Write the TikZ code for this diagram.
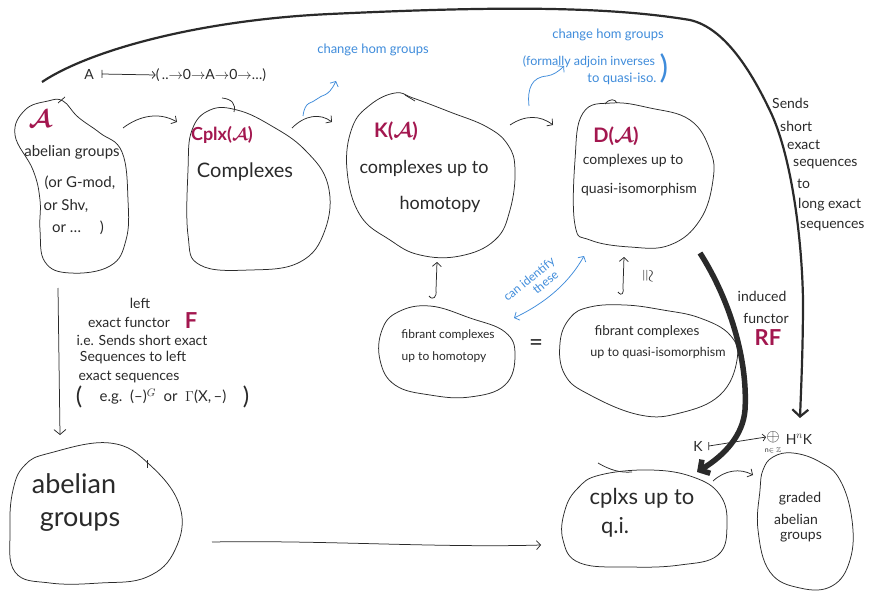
\documentclass[tikz,border=0pt]{standalone}
\usepackage{amsmath,amssymb}
\usepackage{fontspec}
\setmainfont{Lato}
\usetikzlibrary{arrows.meta}
\definecolor{rd}{HTML}{A3174F}
\definecolor{bl}{HTML}{3F8CDB}
\definecolor{ink}{HTML}{2A2A2A}
\tikzset{
 fs/.style={font=\fontsize{#1}{#1}\selectfont},
 blob/.style={draw=ink, line width=0.75pt},
 con/.style={draw=ink, line width=0.75pt, -{Straight Barb[length=4pt,width=9pt]}},
 bcon/.style={draw=bl, line width=0.75pt, -{Straight Barb[length=4pt,width=9pt]}},
 lbl/.style={text=ink, inner sep=0pt},
 blbl/.style={text=bl, inner sep=0pt},
 rlbl/.style={text=rd, inner sep=0pt, font=\bfseries\fontsize{#1}{#1}\selectfont},
}
\begin{document}
\begin{tikzpicture}[x=1pt,y=-1pt]
\useasboundingbox[fill=white] (0,0) rectangle (870,591);

% ---------- blobs ----------
\draw[blob] plot[smooth cycle, tension=0.7] coordinates {(63,101)(78,117)(100,133)(122,152)(128,200)(126,240)(110,266)(70,273)(45,262)(40,230)(40,200)(33,170)(15,135)(25,110)(48,101)};
\draw[blob] (58,103) -- (65,97);
\draw[blob] plot[smooth cycle, tension=0.7] coordinates {(237,110)(270,125)(305,150)(328,185)(325,230)(300,262)(250,270)(200,265)(188,235)(188,170)(192,130)(210,110)};
\draw[blob] (222,98) .. controls (232,99) and (236,104) .. (234,112);
\draw[blob] plot[smooth cycle, tension=0.7] coordinates {(395,93)(413,98)(450,112)(487,127)(508,145)(515,170)(510,210)(495,240)(460,256)(420,255)(390,240)(360,215)(347,170)(352,128)(370,105)};
\draw[blob] (405,95) -- (415,101);
\draw[blob] plot[smooth cycle, tension=0.7] coordinates {(612,103)(650,108)(690,120)(710,150)(713,180)(700,220)(670,245)(630,247)(590,240)(575,225)(575,160)(583,113)};
\draw[blob] (605,104) .. controls (610,98) and (615,99) .. (617,103);
\draw[blob] plot[smooth cycle, tension=0.7] coordinates {(430,306)(470,318)(505,332)(515,355)(505,385)(470,397)(430,395)(395,385)(380,360)(382,330)(398,312)};
\draw[blob] plot[smooth cycle, tension=0.7] coordinates {(590,307)(625,305)(663,310)(700,318)(730,335)(737,360)(720,395)(680,413)(640,415)(590,395)(565,375)(560,343)(570,318)};
\draw[blob] plot[smooth cycle, tension=0.7] coordinates {(50,453)(110,443)(150,465)(180,507)(175,550)(147,577)(100,583)(50,583)(15,572)(10,530)(13,490)(25,465)};
\draw[blob] (147,460) -- (147,468);
\draw[blob] plot[smooth cycle, tension=0.7] coordinates {(600,475)(650,470)(693,477)(720,495)(727,525)(718,555)(680,565)(630,567)(580,563)(563,540)(565,510)(578,488)};
\draw[blob] (598,463) .. controls (610,470) and (620,473) .. (632,472);
\draw[blob] plot[smooth cycle, tension=0.7] coordinates {(773,457)(793,453)(820,462)(840,480)(852,520)(850,560)(832,586)(800,588)(770,572)(758,530)(760,490)(763,470)};

% ---------- texts ----------
\node[rlbl=26] (tA) at (40,119) {$\boldsymbol{\mathcal{A}}$};
\node[lbl,fs=15] (tA1) at (72,152) {abelian groups};
\node[lbl,fs=15] (tA2) at (80,183) {(or G-mod,};
\node[lbl,fs=15] (tA3) at (66,206) {or Shv,};
\node[lbl,fs=15] (tA4) at (78,228) {or \dots\quad\ )};

\node[rlbl=18] (tC) at (222,135) {Cplx($\boldsymbol{\mathcal{A}}$)};
\node[lbl,fs=20] (tC1) at (245,172) {Complexes};

\node[rlbl=20] (tK) at (396,131) {K($\boldsymbol{\mathcal{A}}$)};
\node[lbl,fs=18] (tK1) at (424,168) {complexes up to};
\node[lbl,fs=18] (tK2) at (440,204) {homotopy};

\node[rlbl=20] (tD) at (616,136) {D($\boldsymbol{\mathcal{A}}$)};
\node[lbl,fs=14] (tD1) at (633,161) {complexes up to};
\node[lbl,fs=14] (tD2) at (639,190) {quasi-isomorphism};

\node[lbl,fs=12] (tF1) at (448,335) {fibrant complexes};
\node[lbl,fs=12] (tF2) at (444,357) {up to homotopy};
\node[lbl,fs=13.5] (tQ1) at (647,332) {fibrant complexes};
\node[lbl,fs=12.5] (tQ2) at (658,353) {up to quasi-isomorphism};

\node[lbl,fs=27] (tB1) at (74,484) {abelian};
\node[lbl,fs=27] (tB2) at (80,522) {groups};

\node[lbl,fs=22] (tQI1) at (642,498) {cplxs up to};
\node[lbl,fs=22] (tQI2) at (615,527) {q.i.};

\node[lbl,fs=14] (tG1) at (800,499) {graded};
\node[lbl,fs=14] (tG2) at (796,519) {abelian};
\node[lbl,fs=14] (tG3) at (801,537) {groups};

\node[lbl,fs=14] (tm1) at (89,74) {A};
\node[lbl,fs=14] (tm2) at (211,75) {(\,..$\to$0$\to$A$\to$0$\to$\dots)};
\draw[con,-{Straight Barb[length=3pt,width=7pt]}] (tm1.east) ++(8,0) coordinate (m1) (m1) ++(0,-4) -- ++(0,8) (m1) -- (tm2.west);

\node[blbl,fs=13] (tb1) at (373,50) {change hom groups};
\node[blbl,fs=13] (tb2) at (608,35) {change hom groups};
\node[blbl,fs=12.5] (tb3) at (589,62) {(formally adjoin inverses};
\node[blbl,fs=13] (tb4) at (622,79) {to quasi-iso.};
\node[blbl,fs=32] (tb5) at (664,68) {)};

\node[lbl,fs=14] (tL1) at (140,303) {left};
\node[lbl,fs=14] (tL2) at (129,322) {exact functor};
\node[rlbl=22] (tL3) at (191,321) {F};
\node[lbl,fs=14] (tL4) at (142,340) {i.e. Sends short exact};
\node[lbl,fs=14] (tL5) at (133,358) {Sequences to left};
\node[lbl,fs=14] (tL6) at (129,377) {exact sequences};
\node[lbl,fs=15] (tL7) at (163,397) {e.g.\ \ (--)$^G$\ \ or\ \ $\Gamma$(X,\,--)};
\node[lbl,fs=24] (tL8) at (79,397) {(};
\node[lbl,fs=24] (tL9) at (246,397) {)};

\node[lbl,fs=14,anchor=west] (tS1) at (772,103) {Sends};
\node[lbl,fs=14,anchor=west] (tS2) at (780,126) {short};
\node[lbl,fs=14,anchor=west] (tS3) at (787,145) {exact};
\node[lbl,fs=14,anchor=west] (tS4) at (793,164) {sequences};
\node[lbl,fs=14,anchor=west] (tS5) at (797,184) {to};
\node[lbl,fs=14,anchor=west] (tS6) at (798,205) {long exact};
\node[lbl,fs=14,anchor=west] (tS7) at (800,226) {sequences};

\node[lbl,fs=14] (tR1) at (762,296) {induced};
\node[lbl,fs=14] (tR2) at (766,318) {functor};
\node[rlbl=22] (tR3) at (768,338) {RF};

\node[blbl,font=\fontsize{12}{13}\selectfont,rotate=39,align=left] (ti) at (533,284) {can identify\\\hspace*{27pt}these};

\node[lbl,fs=16,rotate=-90] (tiso) at (647,276) {$\cong$};
\node[lbl,fs=24] (teq) at (536,345) {=};

\node[lbl,fs=14] (tk) at (698,446) {K};
\node[lbl,fs=17] (tsum) at (773,437) {$\oplus$};
\node[lbl,fs=7] (tsub) at (773,450) {n$\in\mathbb{Z}$};
\node[lbl,fs=14] (th) at (799,439) {H$^n$K};
\draw[con,-{Straight Barb[length=3pt,width=7pt]}] (tk.east) ++(6,0) coordinate (k1) (k1) ++(0,-4) -- ++(0,8) (k1) -- (tsum.west);

% ---------- connectors ----------
\coordinate (a1) at (123,128); \coordinate (c0) at (177,122);
\draw[con] (a1) .. controls (140,115) and (160,112) .. (c0);
\coordinate (c1) at (292,128); \coordinate (k0) at (332,122);
\draw[con] (c1) .. controls (305,115) and (320,113) .. (k0);
\coordinate (k2) at (510,125); \coordinate (d0) at (553,125);
\draw[con] (k2) .. controls (525,115) and (540,115) .. (d0);

\coordinate (s1) at (303,116); \coordinate (s2) at (336,81);
\draw[bcon] (s1) .. controls (305,100) and (312,104) .. (317,99) .. controls (322,94) and (328,98) .. (s2);
\coordinate (s3) at (529,106); \coordinate (s4) at (564,66);
\draw[bcon] (s3) .. controls (527,88) and (532,77) .. (547,76) .. controls (553,75) and (558,72) .. (s4);

\coordinate (lf0) at (58,288); \coordinate (lf1) at (60,435);
\draw[con,-{Straight Barb[length=5pt,width=12pt]}] (lf0) -- (lf1);

\coordinate (fh0) at (429,296); \coordinate (fh1) at (437,262);
\draw[con] (fh0) .. controls (433,301) and (437,297) .. (436,290) -- (fh1);
\coordinate (fq0) at (618,292); \coordinate (fq1) at (624,257);
\draw[con] (fq0) .. controls (622,297) and (624,293) .. (623,287) -- (fq1);

\coordinate (id0) at (514,318); \coordinate (id1) at (584,256);
\draw[bcon,{Straight Barb[length=4pt,width=9pt]}-{Straight Barb[length=4pt,width=9pt]}] (id0) .. controls (535,308) and (565,290) .. (id1);

\coordinate (bt0) at (42,82); \coordinate (bt1) at (800,418);
\draw[ink, line width=2.2pt, -{Straight Barb[length=7pt,width=16pt]}] (bt0) .. controls (90,50) and (200,20) .. (330,14) .. controls (480,7) and (600,5) .. (690,20) .. controls (725,28) and (752,72) .. (772,115) .. controls (792,160) and (802,240) .. (803,300) .. controls (803,350) and (801,390) .. (bt1);

\coordinate (rf0) at (700,253); \coordinate (rf1) at (697,472);
\draw[ink, line width=5.5pt, -{Straight Barb[length=7pt,width=16pt]}] (rf0) .. controls (730,300) and (748,360) .. (745,410) .. controls (743,435) and (725,455) .. (rf1);

\coordinate (qg0) at (713,481); \coordinate (qg1) at (753,475);
\draw[con] (qg0) .. controls (725,470) and (740,468) .. (qg1);

\coordinate (bl0) at (212,542); \coordinate (bl1) at (541,545);
\draw[con] (bl0) .. controls (320,540) and (440,548) .. (bl1);
\end{tikzpicture}
\end{document}
